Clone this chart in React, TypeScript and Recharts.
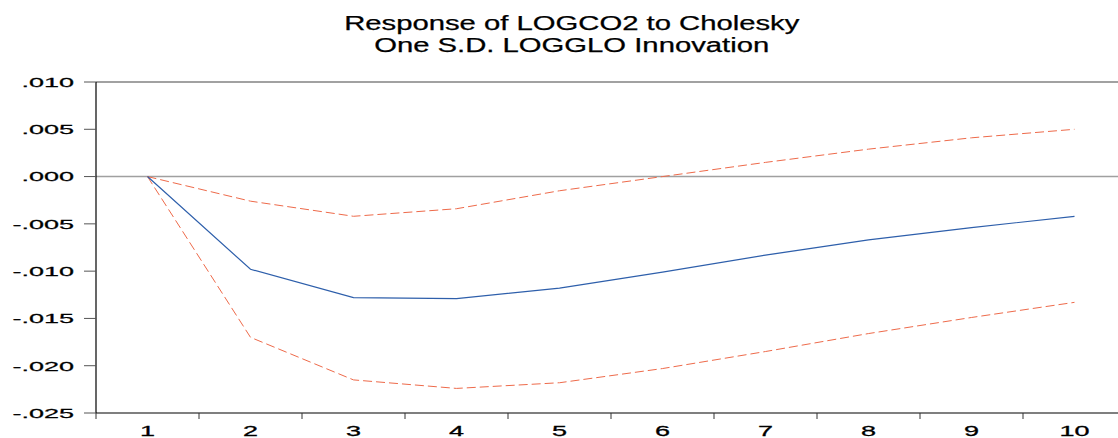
import React from 'react';
import {LineChart, Line, XAxis, YAxis, ReferenceLine} from 'recharts';

const periods = [1, 2, 3, 4, 5, 6, 7, 8, 9, 10];
const response = [0, -0.0098, -0.0128, -0.0129, -0.0118, -0.0101, -0.0083, -0.0067, -0.0054, -0.0042];
const upper = [0, -0.0026, -0.0042, -0.0034, -0.0015, 0.0000, 0.0015, 0.0029, 0.0041, 0.0050];
const lower = [0, -0.0170, -0.0215, -0.0224, -0.0218, -0.0203, -0.0185, -0.0166, -0.0149, -0.0133];
const yTicks = [0.01, 0.005, 0, -0.005, -0.01, -0.015, -0.02, -0.025];
const titleLines = ['Response of LOGCO2 to Cholesky', 'One S.D. LOGGLO Innovation'];

const data = periods.map((p, i) => ({
  period: p, response: response[i], upper: upper[i], lower: lower[i],
}));

// tick marks sit between periods, labels on the periods
const xTicks: number[] = [];
periods.forEach(p => { xTicks.push(p - 0.5, p); });
xTicks.push(periods[periods.length - 1] + 0.5);

const fmt = (v: number) => {
  const s = Math.abs(v).toFixed(3).replace(/^0/, '');
  return v < 0 ? '-' + s : s;
};

const FONT = '"Liberation Sans", Arial, sans-serif';

const XTick = (props: any) => {
  const {x, y, payload} = props;
  const v = payload.value;
  if (!Number.isInteger(v)) {
    return <line x1={x} x2={x} y1={y} y2={y + 6} stroke="#333" strokeWidth={1}/>;
  }
  return (
    <g transform={`translate(${x},${y + 23}) scale(1.8,1)`}>
      <text x={0} y={0} textAnchor="middle" fontSize={15} fontFamily={FONT} fill="#000" stroke="#000" strokeWidth={0.3}>{String(v)}</text>
    </g>
  );
};

const YTick = (props: any) => {
  const {x, y, payload} = props;
  return (
    <g transform={`translate(${x},${y}) scale(2,1)`}>
      <text x={0} y={0} dy="0.36em" textAnchor="end" fontSize={13.5} fontFamily={FONT} fill="#000" stroke="#000" strokeWidth={0.25}>{fmt(payload.value)}</text>
    </g>
  );
};

export default function App() {
  return (
    <div style={{position: 'absolute', left: 0, top: 0, width: 1118, height: 438, overflow: 'hidden', background: '#fff'}}>
      <div style={{position: 'absolute', left: 0, top: 13, width: 1144, textAlign: 'center', fontFamily: FONT, fontSize: 19.5, lineHeight: '21.6px', color: '#000', WebkitTextStroke: '0.25px #000'}}>
        {titleLines.map(t => (
          <div key={t}><span style={{display: 'inline-block', transform: 'scaleX(1.5)'}}>{t}</span></div>
        ))}
      </div>
      <LineChart width={1140} height={438} data={data} margin={{top: 82, right: 14, left: 0, bottom: 0}}>
        <XAxis
          dataKey="period"
          type="number"
          domain={[0.5, 10.5]}
          ticks={xTicks}
          interval={0}
          tick={<XTick/>}
          tickLine={false}
          tickSize={0}
          tickMargin={0}
          height={25}
          axisLine={{stroke: '#000', strokeWidth: 1.2}}
        />
        <YAxis
          type="number"
          domain={[-0.025, 0.01]}
          ticks={yTicks}
          interval={0}
          tick={<YTick/>}
          tickSize={12}
          tickMargin={10}
          tickLine={{stroke: '#555'}}
          width={96}
          axisLine={{stroke: '#000', strokeWidth: 1.2}}
        />
        <ReferenceLine y={0.01} stroke="#444" strokeWidth={1.2}/>
        <ReferenceLine y={0} stroke="#a0a0a0" strokeWidth={1.6}/>
        <Line dataKey="upper" stroke="#ee6a4a" strokeWidth={1} strokeDasharray="9 4" dot={false} isAnimationActive={false}/>
        <Line dataKey="lower" stroke="#ee6a4a" strokeWidth={1} strokeDasharray="9 4" dot={false} isAnimationActive={false}/>
        <Line dataKey="response" stroke="#2e5fab" strokeWidth={1.2} dot={false} isAnimationActive={false}/>
      </LineChart>
    </div>
  );
}
